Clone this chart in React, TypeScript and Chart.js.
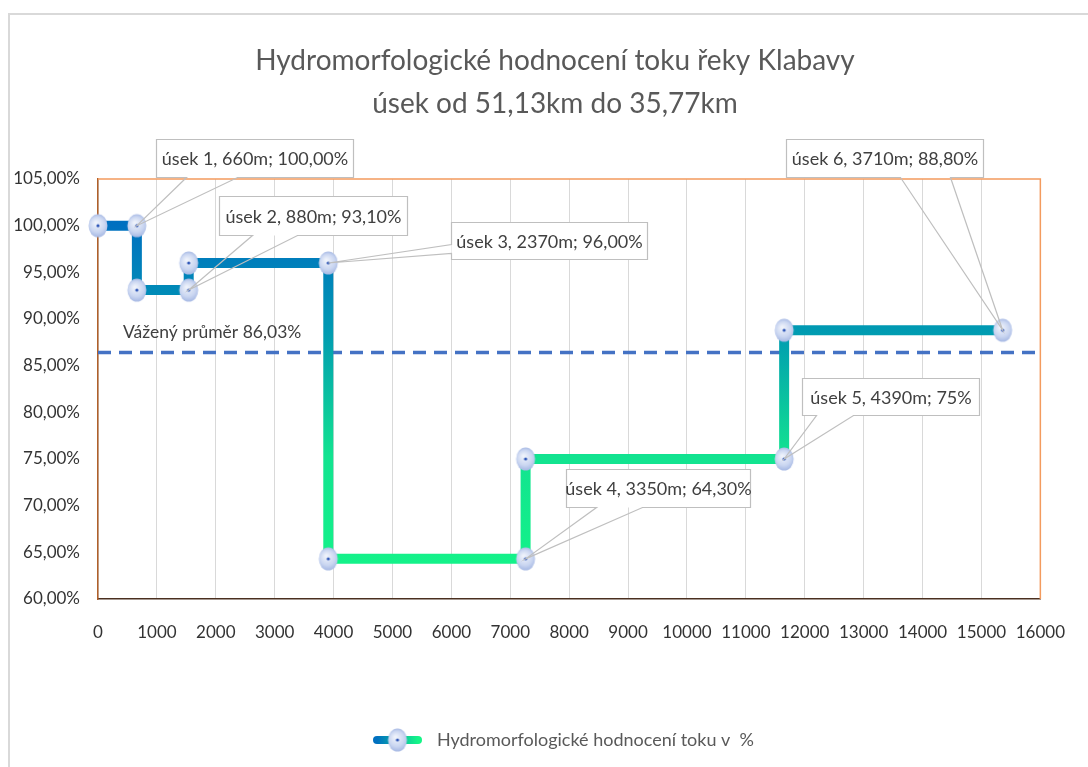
import React, { useEffect, useRef } from 'react';
import { Chart, registerables } from 'chart.js';

Chart.register(...registerables);

const FONT = 'Lato, "Liberation Sans", sans-serif';

// ---------- data ----------
const TITLE_LINES = ['Hydromorfologické hodnocení toku řeky Klabavy', 'úsek od 51,13km do 35,77km'];
const SERIES_LABEL = 'Hydromorfologické hodnocení toku v  %';
const SECTION_LENGTHS_M = [660, 880, 2370, 3350, 4390, 3710];
const SECTION_SCORES = [100, 93.1, 96, 64.3, 75, 88.8];
const SECTION_LABELS = [
  'úsek 1, 660m; 100,00%',
  'úsek 2, 880m; 93,10%',
  'úsek 3, 2370m; 96,00%',
  'úsek 4, 3350m; 64,30%',
  'úsek 5, 4390m; 75%',
  'úsek 6, 3710m; 88,80%',
];
const WEIGHTED_AVG_LABEL = 'Vážený průměr 86,03%';
const WEIGHTED_AVG_LINE = 86.4; // where the dashed line sits in the picture
const X_TICKS = [0, 1000, 2000, 3000, 4000, 5000, 6000, 7000, 8000, 9000, 10000, 11000, 12000, 13000, 14000, 15000, 16000];
const Y_TICKS = [60, 65, 70, 75, 80, 85, 90, 95, 100, 105];
const Y_TICK_LABELS = ['60,00%', '65,00%', '70,00%', '75,00%', '80,00%', '85,00%', '90,00%', '95,00%', '100,00%', '105,00%'];

// ---------- layout / style (not data) ----------
type Side = 'bottom' | 'left';
const CALLOUT_LAYOUT: { dx: number; dy: number; w: number; h: number; side: Side; a: number; b: number }[] = [
  { dx: 19, dy: -87, w: 197, h: 38, side: 'bottom', a: 30, b: 81 },
  { dx: 30, dy: -94, w: 188, h: 39, side: 'bottom', a: 33, b: 78 },
  { dx: 123, dy: -41, w: 196, h: 37, side: 'left', a: 22, b: 31 },
  { dx: 40, dy: -90, w: 184, h: 38, side: 'bottom', a: 30, b: 76 },
  { dx: 18, dy: -81, w: 177, h: 37, side: 'bottom', a: 14, b: 51 },
  { dx: -217, dy: -191, w: 197, h: 38, side: 'bottom', a: 114, b: 164 },
];
const LEGEND_BOX_W = 138;
const LEGEND_ICON_X0 = 83; // visible icon span inside the legend box
const LEGEND_ICON_X1 = 132;
const TITLE_CENTER_X = 555;
const TITLE_LINE_Y = [61, 104];

function buildStepPoints() {
  const pts: { x: number; y: number }[] = [];
  let start = 0;
  SECTION_LENGTHS_M.forEach((len, i) => {
    const end = start + len;
    pts.push({ x: start, y: SECTION_SCORES[i] }, { x: end, y: SECTION_SCORES[i] });
    start = end;
  });
  return pts;
}

function makeMarker(): HTMLCanvasElement {
  const c = document.createElement('canvas');
  c.width = 22;
  c.height = 26;
  const g = c.getContext('2d')!;
  const cx = 11, cy = 13;
  const grad = g.createRadialGradient(cx - 2, cy - 3, 1, cx, cy, 12);
  grad.addColorStop(0, '#eef2fb');
  grad.addColorStop(0.6, '#cad6f1');
  grad.addColorStop(1, '#a2b5e2');
  g.fillStyle = grad;
  g.beginPath();
  g.ellipse(cx, cy, 9.5, 11.5, 0, 0, Math.PI * 2);
  g.fill();
  g.fillStyle = '#2f57b8';
  g.beginPath();
  g.arc(cx, cy, 1.6, 0, Math.PI * 2);
  g.fill();
  return c;
}

function makeLegendIcon(marker: HTMLCanvasElement): HTMLCanvasElement {
  const c = document.createElement('canvas');
  c.width = LEGEND_BOX_W;
  c.height = 26;
  const g = c.getContext('2d')!;
  const x0 = LEGEND_ICON_X0 + 4, x1 = LEGEND_ICON_X1 - 4;
  const grad = g.createLinearGradient(x0, 0, x1, 0);
  grad.addColorStop(0, '#0070C0');
  grad.addColorStop(1, '#14F587');
  g.strokeStyle = grad;
  g.lineWidth = 8;
  g.lineCap = 'round';
  g.beginPath();
  g.moveTo(x0, 13);
  g.lineTo(x1, 13);
  g.stroke();
  const mx = (LEGEND_ICON_X0 + LEGEND_ICON_X1) / 2;
  g.drawImage(marker, mx - marker.width / 2, 13 - marker.height / 2);
  return c;
}

export default function App() {
  const ref = useRef<HTMLCanvasElement>(null);

  useEffect(() => {
    document.body.style.margin = '0';
    const canvas = ref.current!;
    const marker = makeMarker();
    const legendIcon = makeLegendIcon(marker);
    const points = buildStepPoints();

    const decorPlugin = {
      id: 'decor',
      beforeDraw(chart: any) {
        const { ctx, width, height } = chart;
        ctx.save();
        ctx.fillStyle = '#ffffff';
        ctx.fillRect(0, 0, width, height);
        ctx.strokeStyle = '#d9d9d9';
        ctx.lineWidth = 2;
        ctx.beginPath();
        ctx.moveTo(9, height + 5);
        ctx.lineTo(9, 14);
        ctx.lineTo(width + 5, 14);
        ctx.stroke();
        // title
        ctx.font = `28px ${FONT}`;
        ctx.fillStyle = '#595959';
        ctx.textAlign = 'center';
        ctx.textBaseline = 'middle';
        TITLE_LINES.forEach((t, i) => ctx.fillText(t, TITLE_CENTER_X, TITLE_LINE_Y[i]));
        ctx.restore();
      },
      afterDatasetsDraw(chart: any) {
        const { ctx, chartArea, scales } = chart;
        ctx.save();
        // plot frame top / right
        ctx.strokeStyle = '#F39B5E';
        ctx.lineWidth = 1.5;
        ctx.beginPath();
        ctx.moveTo(chartArea.left, chartArea.top);
        ctx.lineTo(chartArea.right, chartArea.top);
        ctx.lineTo(chartArea.right, chartArea.bottom);
        ctx.stroke();

        // weighted average label
        const ay = scales.y.getPixelForValue(WEIGHTED_AVG_LINE);
        ctx.font = `17.5px ${FONT}`;
        ctx.fillStyle = '#404040';
        ctx.textAlign = 'left';
        ctx.textBaseline = 'middle';
        ctx.fillText(WEIGHTED_AVG_LABEL, chartArea.left + 25, ay - 20);

        // callouts
        const meta = chart.getDatasetMeta(0);
        CALLOUT_LAYOUT.forEach((L, i) => {
          const el = meta.data[2 * i + 1];
          const tx = el.x, ty = el.y;
          const bx = Math.round(tx + L.dx) + 0.5, by = Math.round(ty + L.dy) + 0.5;
          ctx.fillStyle = '#ffffff';
          ctx.fillRect(bx, by, L.w, L.h);
          ctx.beginPath();
          if (L.side === 'bottom') {
            ctx.moveTo(bx, by);
            ctx.lineTo(bx + L.w, by);
            ctx.lineTo(bx + L.w, by + L.h);
            ctx.lineTo(bx + L.b, by + L.h);
            ctx.lineTo(tx, ty);
            ctx.lineTo(bx + L.a, by + L.h);
            ctx.lineTo(bx, by + L.h);
            ctx.closePath();
          } else {
            ctx.moveTo(bx, by);
            ctx.lineTo(bx + L.w, by);
            ctx.lineTo(bx + L.w, by + L.h);
            ctx.lineTo(bx, by + L.h);
            ctx.lineTo(bx, by + L.b);
            ctx.lineTo(tx, ty);
            ctx.lineTo(bx, by + L.a);
            ctx.closePath();
          }
          ctx.strokeStyle = '#bfbfbf';
          ctx.lineWidth = 1.2;
          ctx.stroke();
          ctx.fillStyle = '#404040';
          ctx.font = `18px ${FONT}`;
          ctx.textAlign = 'center';
          ctx.textBaseline = 'middle';
          ctx.fillText(SECTION_LABELS[i], bx + L.w / 2, by + L.h / 2 + 1);
        });
        ctx.restore();
      },
    };

    const chart = new Chart(canvas, {
      type: 'line',
      data: {
        datasets: [
          {
            label: SERIES_LABEL,
            data: points,
            borderColor: (c: any) => {
              const { ctx, chartArea } = c.chart;
              if (!chartArea) return '#0070C0';
              const g = ctx.createLinearGradient(0, chartArea.top, 0, chartArea.bottom);
              g.addColorStop(0, '#0068BE');
              g.addColorStop(0.11, '#0070C0');
              g.addColorStop(0.36, '#009AB2');
              g.addColorStop(0.66, '#12E390');
              g.addColorStop(1, '#14F787');
              return g;
            },
            borderWidth: 10,
            borderJoinStyle: 'miter',
            borderCapStyle: 'butt',
            pointStyle: marker,
            pointRadius: 10,
            tension: 0,
            fill: false,
            clip: false,
            order: 1,
          } as any,
          {
            label: 'avg',
            data: [
              { x: X_TICKS[0], y: WEIGHTED_AVG_LINE },
              { x: X_TICKS[X_TICKS.length - 1], y: WEIGHTED_AVG_LINE },
            ],
            borderColor: '#4472C4',
            borderWidth: 3.5,
            borderDash: [13, 8],
            pointRadius: 0,
            fill: false,
            order: 2,
          } as any,
        ],
      },
      options: {
        responsive: false,
        animation: false,
        devicePixelRatio: 1,
        events: [],
        layout: { padding: { left: 0, right: 44, top: 179, bottom: 8 } },
        font: { family: FONT },
        scales: {
          x: {
            type: 'linear',
            min: X_TICKS[0],
            max: X_TICKS[X_TICKS.length - 1],
            afterFit: (s: any) => { s.height = 122; },
            afterBuildTicks: (s: any) => { s.ticks = X_TICKS.map((v) => ({ value: v })); },
            ticks: {
              font: { family: FONT, size: 17 },
              color: '#333333',
              padding: 23,
              maxRotation: 0,
              autoSkip: false,
              callback: (v: any) => String(v),
            },
            grid: { color: '#d9d9d9', lineWidth: 1, drawTicks: false },
            border: { color: '#4a3020', width: 1.5 },
          },
          y: {
            type: 'linear',
            min: Y_TICKS[0],
            max: Y_TICKS[Y_TICKS.length - 1],
            afterFit: (s: any) => { s.width = 98; },
            afterBuildTicks: (s: any) => { s.ticks = Y_TICKS.map((v) => ({ value: v })); },
            ticks: {
              font: { family: FONT, size: 17 },
              color: '#333333',
              padding: 18,
              autoSkip: false,
              callback: (v: any) => Y_TICK_LABELS[Y_TICKS.indexOf(Number(v))],
            },
            grid: { display: false, drawTicks: false },
            border: { color: '#B0602A', width: 1.5 },
          },
        },
        plugins: {
          title: { display: false },
          legend: {
            display: true,
            position: 'bottom',
            labels: {
              usePointStyle: true,
              pointStyleWidth: LEGEND_BOX_W,
              padding: 10,
              color: '#595959',
              font: { family: FONT, size: 18 },
              generateLabels: () => [
                {
                  text: SERIES_LABEL,
                  pointStyle: legendIcon,
                  fillStyle: 'rgba(0,0,0,0)',
                  strokeStyle: 'rgba(0,0,0,0)',
                  lineWidth: 0,
                  hidden: false,
                  datasetIndex: 0,
                  fontColor: '#595959',
                } as any,
              ],
            },
          },
          tooltip: { enabled: false },
        },
      } as any,
      plugins: [decorPlugin],
    });

    return () => chart.destroy();
  }, []);

  return <canvas ref={ref} width={1088} height={767} style={{ display: 'block', width: 1088, height: 767 }} />;
}
